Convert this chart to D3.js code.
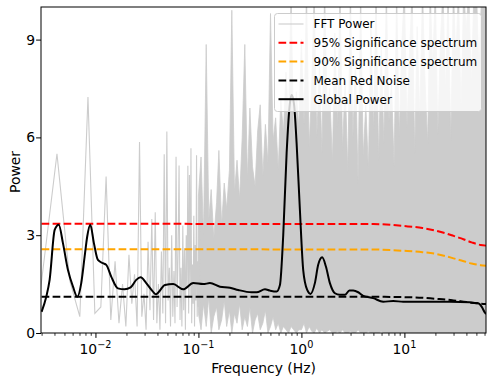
<!DOCTYPE html>
<html>
<head>
<meta charset="utf-8">
<script src="https://cdn.jsdelivr.net/npm/d3@7"></script>
<style>
  body { margin: 0; background: #fff; }
  svg text { font-family: "DejaVu Sans", sans-serif; fill: #000; }
</style>
</head>
<body>
<svg id="powerChart"></svg>
<script>
// axis limits and ticks
let freqLimits = [0.00296, 62];
let powerLimits = [0, 10];
let powerTicks = [0, 3, 6, 9];
let freqMajorTicks = [0.01, 0.1, 1, 10];
let freqMajorExps = ['\u22122', '\u22121', '0', '1'];
let freqMinorTicks = [0.003, 0.004, 0.005, 0.006, 0.007, 0.008, 0.009,
  0.02, 0.03, 0.04, 0.05, 0.06, 0.07, 0.08, 0.09,
  0.2, 0.3, 0.4, 0.5, 0.6, 0.7, 0.8, 0.9,
  2, 3, 4, 5, 6, 7, 8, 9, 20, 30, 40, 50, 60];

// fft power, low frequency bins (single line)
let fftFreq = [0.00282, 0.00423, 0.00564, 0.00705, 0.00846, 0.00987, 0.01128, 0.01269, 0.0141, 0.01551,
  0.01692, 0.01833, 0.01974, 0.02115, 0.02256, 0.02397, 0.02538, 0.02679, 0.0282, 0.02961,
  0.03102, 0.03243, 0.03384, 0.03525, 0.03666, 0.03807, 0.03948, 0.04089, 0.0423, 0.04371,
  0.04512, 0.04653, 0.04794, 0.04935, 0.05076, 0.05217, 0.05358, 0.05499, 0.0564, 0.05781,
  0.05922, 0.06063, 0.06204, 0.06345, 0.06486, 0.06627, 0.06768, 0.06909, 0.0705, 0.07191,
  0.07332, 0.07473, 0.07614, 0.07755, 0.07896, 0.08037, 0.08178, 0.08319, 0.0846, 0.08601,
  0.08742, 0.08883, 0.09024, 0.09165, 0.09306, 0.09447, 0.09588, 0.09729, 0.0987, 0.10011,
  0.10152, 0.10293, 0.10434];
let fftPower = [0.9, 5.5, 1.6, 0.5, 7.24, 0.6, 0.8, 4.8, 0.4, 2.2,
  0.3, 1.5, 0.2, 2.4, 0.9, 1.8, 0.2, 5.86, 0.5, 1.2,
  0.1, 2.8, 0.7, 3.5, 0.4, 3.7, 0.3, 1.5, 0.1, 2.5,
  0.6, 5.48, 0.3, 6.18, 1.0, 2.0, 0.2, 3.0, 0.5, 1.9,
  0.3, 5.41, 0.8, 2.5, 5.14, 0.4, 2.0, 0.2, 3.3, 0.7,
  2.6, 0.1, 3.0, 1.4, 5.13, 0.6, 4.85, 1.1, 5.67, 0.3,
  2.1, 0.9, 3.6, 0.2, 2.7, 1.0, 5.45, 0.5, 2.2, 0.8,
  3.1, 4.19, 0.4];

// fft power above 0.1 Hz, too dense for single bins: min / max per frequency bin
let bandFreq = [0.100, 0.106, 0.112, 0.119, 0.126, 0.133, 0.141, 0.150, 0.158, 0.168,
  0.178, 0.188, 0.200, 0.211, 0.224, 0.237, 0.251, 0.266, 0.282, 0.299,
  0.316, 0.335, 0.355, 0.376, 0.398, 0.422, 0.447, 0.473, 0.501, 0.531,
  0.562, 0.596, 0.631, 0.668, 0.708, 0.750, 0.794, 0.841, 0.891, 0.944,
  1.00, 1.06, 1.12, 1.19, 1.26, 1.33, 1.41, 1.50, 1.58, 1.68,
  1.78, 1.88, 2.00, 2.11, 2.24, 2.37, 2.51, 2.66, 2.82, 2.99,
  3.16, 3.35, 3.55, 3.76, 3.98, 4.22, 4.47, 4.73, 5.01, 5.31,
  5.62, 5.96, 6.31, 6.68, 7.08, 7.50, 7.94, 8.41, 8.91, 9.44,
  10.0, 10.6, 11.2, 11.9, 12.6, 13.3, 14.1, 15.0, 15.8, 16.8,
  17.8, 18.8, 20.0, 21.1, 22.4, 23.7, 25.1, 26.6, 28.2, 29.9,
  31.6, 33.5, 35.5, 37.6, 39.8, 42.2, 44.7, 47.3, 50.1, 53.1,
  56.2, 59.6, 62.0];
let bandHigh = [4.2, 5.4, 3.0, 8.85, 3.5, 4.4, 2.9, 4.0, 5.6, 3.3,
  4.6, 3.8, 5.0, 9.9, 4.3, 5.3, 4.1, 6.0, 8.85, 4.7,
  6.9, 5.1, 4.5, 6.2, 7.0, 4.8, 6.4, 5.2, 9.8, 5.9,
  6.6, 5.0, 7.2, 6.1, 8.0, 6.5, 10.5, 5.8, 7.4, 6.3,
  9.0, 6.4, 10.5, 5.7, 7.6, 10.5, 6.0, 8.3, 5.5, 10.5,
  6.8, 7.5, 5.2, 9.2, 6.3, 10.5, 5.6, 7.8, 4.9, 10.5,
  6.0, 8.4, 4.6, 10.5, 5.4, 7.0, 5.0, 9.5, 6.2, 10.5,
  5.3, 8.8, 5.8, 10.5, 6.5, 7.7, 5.1, 10.5, 6.0, 8.9,
  10.5, 6.3, 8.6, 10.5, 5.5, 9.4, 6.6, 10.5, 7.9, 5.8,
  10.5, 8.2, 10.5, 6.1, 9.0, 10.5, 7.4, 10.5, 5.9, 10.5,
  8.5, 10.5, 6.8, 10.5, 9.3, 10.5, 7.6, 10.5, 10.5, 8.0,
  10.5, 10.5, 10.5];
let bandLow = [0.6, 0.1, 0.9, 0.2, 1.1, 0.0, 0.5, 0.8, 0.1, 0.4,
  1.0, 0.2, 0.7, 0.0, 0.6, 0.3, 0.9, 0.1, 0.5, 0.2,
  0.8, 0.0, 0.4, 0.6, 0.1, 0.3, 0.7, 0.0, 0.2, 0.5,
  0.1, 0.3, 0.0, 0.2, 0.1, 0.0, 0.2, 0.1, 0.0, 0.1,
  0.1, 0.3, 0.0, 0.2, 0.05, 0.0, 0.15, 0.0, 0.1, 0.0,
  0.05, 0.1, 0.0, 0.0, 0.05, 0.0, 0.1, 0.0, 0.0, 0.05,
  0.0, 0.0, 0.1, 0.0, 0.0, 0.0, 0.05, 0.0, 0.0, 0.0,
  0.0, 0.05, 0.0, 0.0, 0.0, 0.0, 0.0, 0.0, 0.0, 0.0,
  0.0, 0.0, 0.0, 0.0, 0.0, 0.0, 0.0, 0.0, 0.0, 0.0,
  0.0, 0.0, 0.0, 0.0, 0.0, 0.0, 0.0, 0.0, 0.0, 0.0,
  0.0, 0.0, 0.0, 0.0, 0.0, 0.0, 0.0, 0.0, 0.0, 0.0,
  0.0, 0.0, 0.0];

// significance spectra and red noise
let sigFreq = [0.003, 5, 10, 15, 20, 25, 30, 35, 40, 45, 50, 55, 62];
let sig95 = [3.35, 3.34, 3.28, 3.22, 3.14, 3.06, 2.98, 2.91, 2.84, 2.78, 2.73, 2.70, 2.68];
let sig90 = [2.57, 2.56, 2.52, 2.48, 2.43, 2.36, 2.29, 2.23, 2.18, 2.13, 2.10, 2.08, 2.06];
let redNoise = [1.115, 1.11, 1.10, 1.08, 1.05, 1.03, 1.00, 0.975, 0.95, 0.93, 0.915, 0.90, 0.89];

// global wavelet power
let gpFreq = [0.003, 0.00333, 0.00359, 0.00402, 0.00440, 0.00484, 0.00541, 0.00605, 0.00666, 0.00728,
  0.00785, 0.00832, 0.00891, 0.00967, 0.01057, 0.01183, 0.01274, 0.01423, 0.01652, 0.01919,
  0.02196, 0.02489, 0.02746, 0.03113, 0.03614, 0.0386, 0.0473, 0.0569, 0.0711, 0.0891,
  0.1114, 0.1294, 0.1618, 0.2024, 0.2434, 0.3286, 0.3673, 0.4424, 0.4946, 0.5743,
  0.6186, 0.6659, 0.7185, 0.7734, 0.8035, 0.8452, 0.8979, 0.9665, 1.041, 1.138,
  1.227, 1.351, 1.455, 1.591, 1.729, 1.891, 2.115, 2.364, 2.644, 2.924,
  3.183, 3.559, 3.981, 4.977, 6.223, 7.780, 9.73, 15.2, 27.7, 43.3,
  52.1, 56.2, 60.6, 62];
let gpPower = [0.65, 1.11, 1.63, 3.16, 3.32, 2.75, 1.93, 1.42, 1.11, 1.53,
  2.34, 2.96, 3.32, 2.75, 2.24, 2.14, 2.09, 1.73, 1.37, 1.34,
  1.40, 1.63, 1.71, 1.53, 1.27, 1.19, 1.47, 1.50, 1.34, 1.53,
  1.50, 1.53, 1.42, 1.39, 1.32, 1.25, 1.25, 1.34, 1.30, 1.27,
  1.47, 3.0, 5.52, 7.05, 7.3, 7.05, 5.83, 3.78, 1.93, 1.32,
  1.20, 1.53, 2.09, 2.32, 2.04, 1.53, 1.22, 1.17, 1.17, 1.30,
  1.30, 1.25, 1.14, 1.07, 0.96, 0.98, 0.96, 0.96, 0.96, 0.94,
  0.91, 0.81, 0.62, 0.58];

// legend entries
let legendLabels = ['FFT Power', '95% Significance spectrum', '90% Significance spectrum', 'Mean Red Noise', 'Global Power'];
let legendColors = ['#cccccc', 'red', 'orange', 'black', 'black'];

// define margins for the visualization
let widthSVG = 494;
let heightSVG = 384;
let margins = { top: 7, bottom: 51, left: 41, right: 8 };
let width = widthSVG - margins.left - margins.right;
let height = heightSVG - margins.top - margins.bottom;
let dashes = '7.7,3.3';

let SVG = d3.select('svg#powerChart')
  .attr('width', widthSVG)
  .attr('height', heightSVG);

let SVGG = SVG.append('g')
  .attr('transform', `translate(${margins.left}, ${margins.top})`);

// scales
let x = d3.scaleLog().domain(freqLimits).range([0, width]);
let y = d3.scaleLinear().domain(powerLimits).range([height, 0]);

SVG.append('defs').append('clipPath')
  .attr('id', 'plotClip')
  .append('rect')
  .attr('width', width)
  .attr('height', height);

let plotG = SVGG.append('g').attr('clip-path', 'url(#plotClip)');

// dense fft band
let bandData = bandFreq.map((f, i) => ({ f: f, lo: bandLow[i], hi: bandHigh[i] }));
let bandArea = d3.area()
  .x(d => x(d.f))
  .y0(d => y(d.lo))
  .y1(d => y(d.hi));

plotG.append('path')
  .datum(bandData)
  .attr('d', bandArea)
  .style('fill', '#cccccc')
  .style('stroke', '#cccccc')
  .style('stroke-width', 0.8)
  .style('stroke-linejoin', 'miter');

// fft line at low frequencies
let fftData = fftFreq.map((f, i) => ({ f: f, p: fftPower[i] }));
let fftLine = d3.line().x(d => x(d.f)).y(d => y(d.p));

plotG.append('path')
  .datum(fftData)
  .attr('d', fftLine)
  .style('fill', 'none')
  .style('stroke', '#cccccc')
  .style('stroke-width', 1.1);

// significance and red noise curves
let smoothLine = d3.line()
  .x(d => x(d.f))
  .y(d => y(d.p))
  .curve(d3.curveMonotoneX);

let sigSeries = [
  { values: sig95, color: 'red' },
  { values: sig90, color: 'orange' },
  { values: redNoise, color: 'black' }
];

sigSeries.forEach(s => {
  plotG.append('path')
    .datum(sigFreq.map((f, i) => ({ f: f, p: s.values[i] })))
    .attr('d', smoothLine)
    .style('fill', 'none')
    .style('stroke', s.color)
    .style('stroke-width', 2)
    .style('stroke-dasharray', dashes);
});

// global power
plotG.append('path')
  .datum(gpFreq.map((f, i) => ({ f: f, p: gpPower[i] })))
  .attr('d', smoothLine)
  .style('fill', 'none')
  .style('stroke', 'black')
  .style('stroke-width', 2)
  .style('stroke-linejoin', 'round');

// axes
let yAxis = d3.axisLeft(y)
  .tickValues(powerTicks)
  .tickSize(4.9)
  .tickPadding(1);

let yAxisG = SVGG.append('g').call(yAxis);
yAxisG.select('.domain').remove();
yAxisG.selectAll('text').style('font-size', '13.9px');

let xMinor = d3.axisBottom(x)
  .tickValues(freqMinorTicks)
  .tickSize(2.8)
  .tickFormat('');
let xMinorG = SVGG.append('g')
  .attr('transform', `translate(0, ${height})`)
  .call(xMinor);
xMinorG.select('.domain').remove();
xMinorG.selectAll('line').style('stroke-width', 0.8);

let xMajor = d3.axisBottom(x)
  .tickValues(freqMajorTicks)
  .tickSize(4.9)
  .tickFormat('');
let xMajorG = SVGG.append('g')
  .attr('transform', `translate(0, ${height})`)
  .call(xMajor);
xMajorG.select('.domain').remove();

// tick labels in 10^n form
let xLabels = SVGG.append('g')
  .selectAll('text')
  .data(freqMajorTicks)
  .enter()
  .append('text')
  .attr('x', d => x(d))
  .attr('y', height + 21)
  .style('text-anchor', 'middle')
  .style('font-size', '13.9px');

xLabels.append('tspan').text('10');
xLabels.append('tspan')
  .text((d, i) => freqMajorExps[i])
  .attr('dy', -6)
  .style('font-size', '9.7px');

// plot frame
SVGG.append('rect')
  .attr('width', width)
  .attr('height', height)
  .style('fill', 'none')
  .style('stroke', 'black')
  .style('stroke-width', 1);

// axis titles
SVG.append('text')
  .text('Frequency (Hz)')
  .attr('x', margins.left + width / 2)
  .attr('y', 372.5)
  .style('text-anchor', 'middle')
  .style('font-size', '13.9px');

SVG.append('text')
  .text('Power')
  .attr('transform', 'translate(19.5, 172) rotate(-90)')
  .style('text-anchor', 'middle')
  .style('font-size', '13.9px');

// legend
let legendG = SVG.append('g').attr('transform', 'translate(274.5, 13.5)');

legendG.append('rect')
  .attr('width', 207)
  .attr('height', 98)
  .attr('rx', 3)
  .style('fill', 'white')
  .style('fill-opacity', 0.8)
  .style('stroke', '#cccccc')
  .style('stroke-width', 1);

let legendRows = legendG.selectAll('g.legendRow')
  .data(legendLabels)
  .enter()
  .append('g')
  .attr('class', 'legendRow')
  .attr('transform', (d, i) => `translate(0, ${10.5 + i * 18.8})`);

legendRows.append('line')
  .attr('x1', 4)
  .attr('x2', 29)
  .style('stroke', (d, i) => legendColors[i])
  .style('stroke-width', (d, i) => i == 0 ? 1.1 : 2)
  .style('stroke-dasharray', (d, i) => (i > 0 && i < 4) ? dashes : null);

legendRows.append('text')
  .text(d => d)
  .attr('x', 39)
  .attr('y', 4.3)
  .style('font-size', '12px');
</script>
</body>
</html>
